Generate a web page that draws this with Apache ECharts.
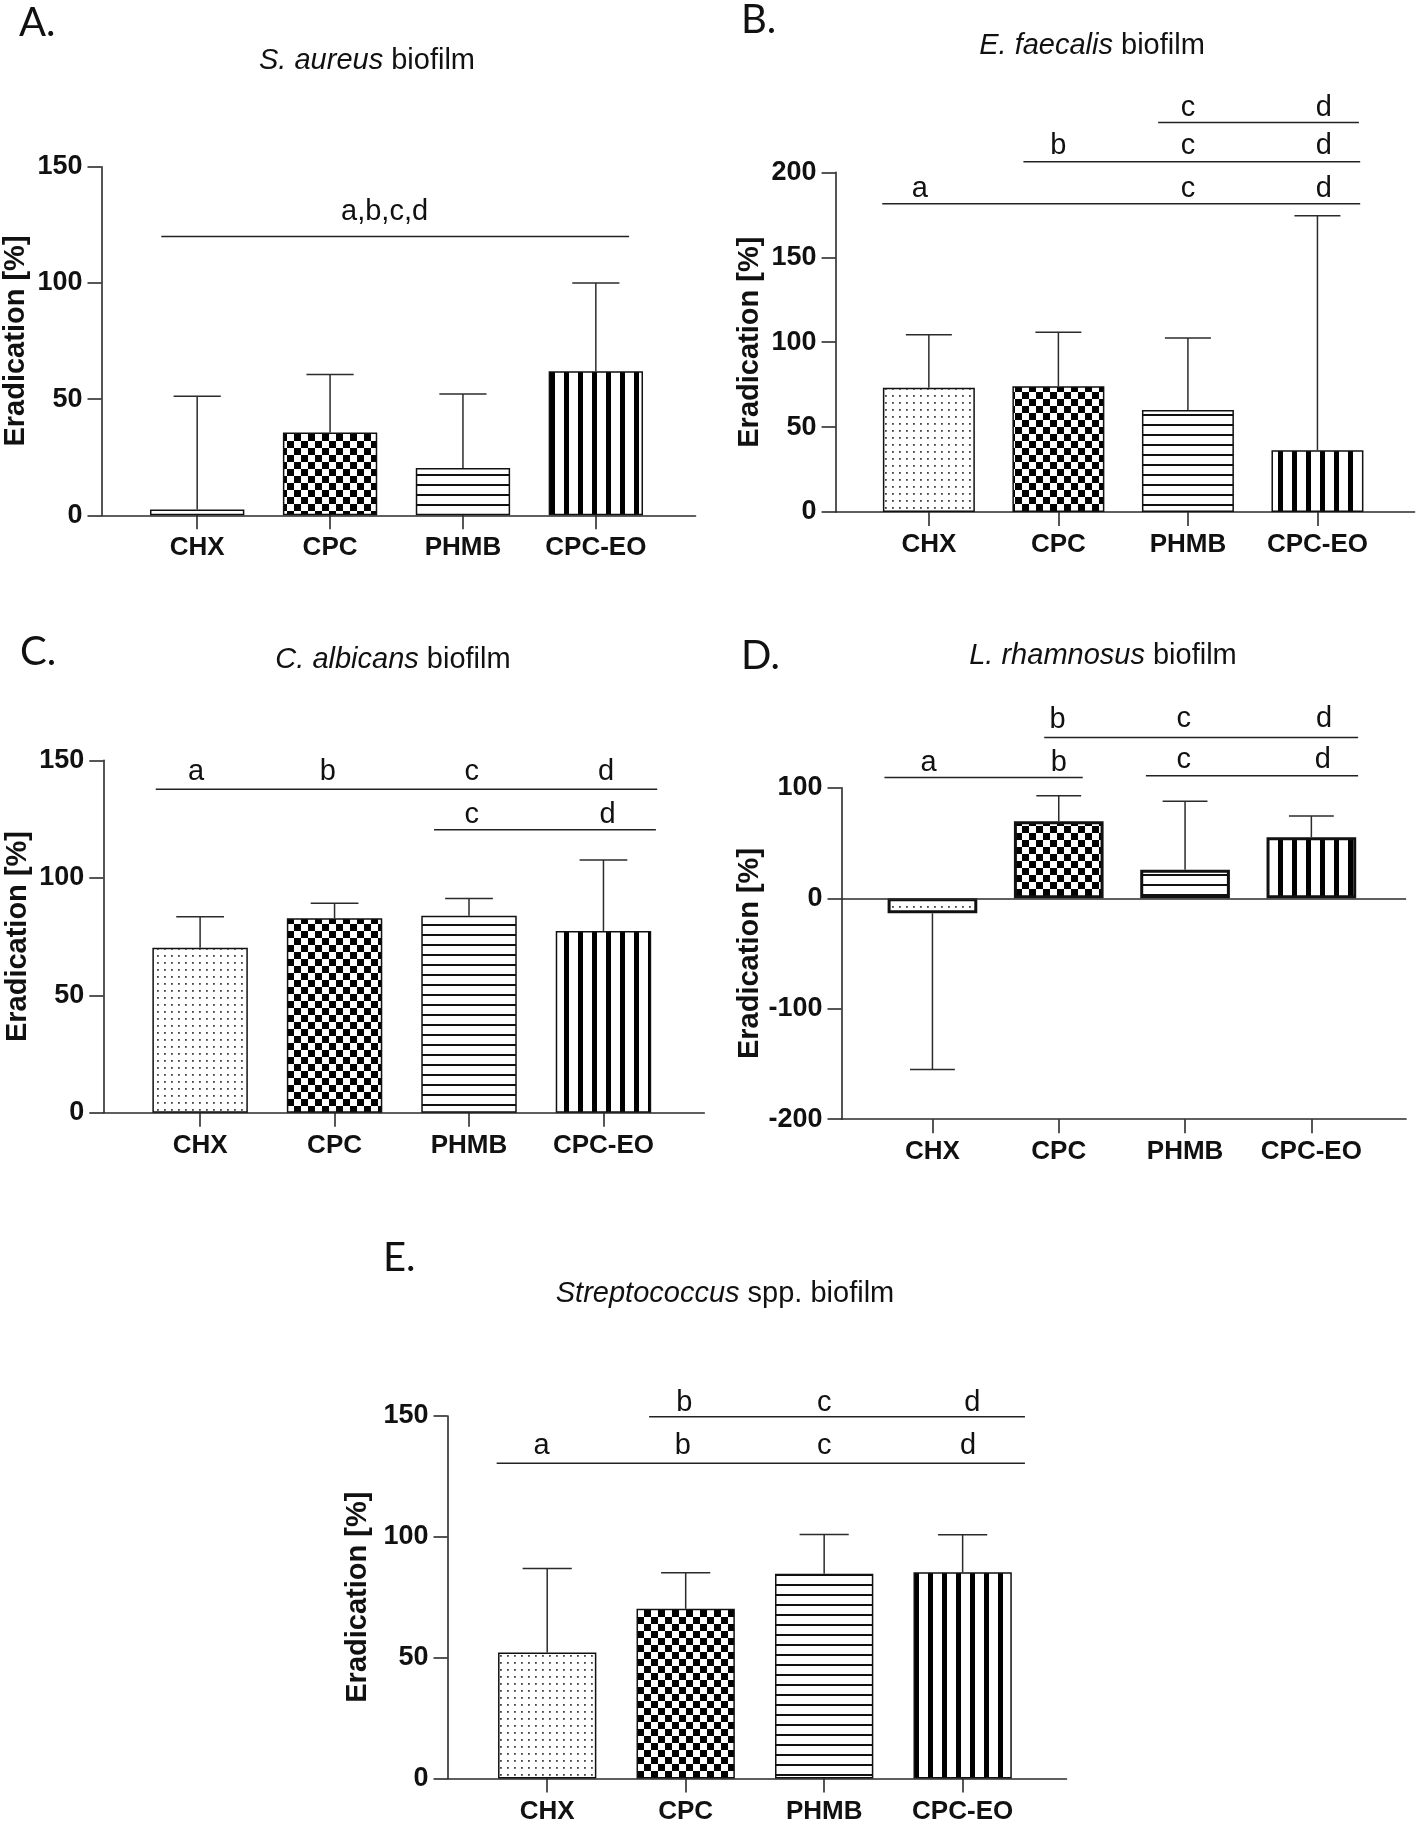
<!DOCTYPE html>
<html>
<head>
<meta charset="utf-8">
<title>Biofilm eradication</title>
<script src="https://cdn.jsdelivr.net/npm/echarts@6.0.0/dist/echarts.min.js"></script>
<style>
  html, body { margin: 0; padding: 0; background: #fff; }
  #chart { width: 1416px; height: 1825px; }
</style>
</head>
<body>
<div id="chart"></div>
<script>
// categories (same for every panel)
const categories = ['CHX', 'CPC', 'PHMB', 'CPC-EO'];

// A. S. aureus biofilm
const meanA = [2.5, 35.6, 20.4, 62.0];
const errA = [51.2, 60.6, 52.2, 100.0];
const yTicksA = [0, 50, 100, 150];
const linesA = [[-0.27, 3.25, 120]];            // [x from, x to, y]
const lettersA = [[1.41, 130.6, 'a,b,c,d']];     // [x, y, text]

// B. E. faecalis biofilm
const meanB = [73.2, 74.1, 60.1, 36.4];
const errB = [104.4, 105.9, 102.4, 174.5];
const yTicksB = [0, 50, 100, 150, 200];
const linesB = [[-0.36, 3.33, 181.5], [0.73, 3.33, 206.3], [1.77, 3.32, 229.4]];
const lettersB = [
  [-0.07, 190.4, 'a'], [2.0, 190.4, 'c'], [3.05, 190.4, 'd'],
  [1.0, 215.5, 'b'], [2.0, 215.5, 'c'], [3.05, 215.5, 'd'],
  [2.0, 237.9, 'c'], [3.05, 237.9, 'd']
];

// C. C. albicans biofilm
const meanC = [70.2, 82.8, 83.9, 77.4];
const errC = [83.4, 89.2, 91.2, 107.6];
const yTicksC = [0, 50, 100, 150];
const linesC = [[-0.33, 3.40, 137.7], [1.74, 3.39, 120.5]];
const lettersC = [
  [-0.03, 145.1, 'a'], [0.95, 145.1, 'b'], [2.02, 145.1, 'c'], [3.02, 145.1, 'd'],
  [2.02, 126.9, 'c'], [3.03, 126.9, 'd']
];

// D. L. rhamnosus biofilm
const meanD = [-13.6, 69.8, 25.9, 55.3];
const errD = [-154.9, 92.8, 87.9, 74.4];
const yTicksD = [-200, -100, 0, 100];
const linesD = [[-0.38, 1.19, 109.3], [1.69, 3.37, 110.9], [0.885, 3.37, 145.5]];
const lettersD = [
  [-0.03, 122.2, 'a'], [1.0, 122.2, 'b'],
  [1.99, 125.4, 'c'], [3.09, 125.4, 'd'],
  [0.99, 161.0, 'b'], [1.99, 162.6, 'c'], [3.1, 162.6, 'd']
];

// E. Streptococcus spp. biofilm
const meanE = [52.1, 70.2, 84.7, 85.3];
const errE = [86.9, 85.1, 101.0, 100.8];
const yTicksE = [0, 50, 100, 150];
const linesE = [[-0.365, 3.45, 130.4], [0.736, 3.45, 149.7]];
const lettersE = [
  [-0.04, 137.4, 'a'], [0.98, 137.4, 'b'], [2.0, 137.4, 'c'], [3.04, 137.4, 'd'],
  [0.99, 155.5, 'b'], [2.0, 155.5, 'c'], [3.07, 155.5, 'd']
];

// 字体
const SANS = '"Liberation Sans", Arial, sans-serif';
const AXIS_COLOR = '#2b2b2b';

// fill patterns drawn on small canvases
function makePattern(kind) {
  const c = document.createElement('canvas');
  const ctx = c.getContext('2d');
  if (kind === 'dots') {
    c.width = 7; c.height = 7;
    ctx.fillStyle = '#fff'; ctx.fillRect(0, 0, 7, 7);
    ctx.fillStyle = '#444'; ctx.fillRect(3, 3, 1.8, 1.8);
  } else if (kind === 'checker') {
    c.width = 14; c.height = 14;
    ctx.fillStyle = '#fff'; ctx.fillRect(0, 0, 14, 14);
    ctx.fillStyle = '#000';
    ctx.fillRect(0, 0, 7, 7); ctx.fillRect(7, 7, 7, 7);
  } else if (kind === 'hlines') {
    c.width = 10; c.height = 10;
    ctx.fillStyle = '#fff'; ctx.fillRect(0, 0, 10, 10);
    ctx.fillStyle = '#111'; ctx.fillRect(0, 4, 10, 2);
  } else {
    c.width = 14; c.height = 14;
    ctx.fillStyle = '#fff'; ctx.fillRect(0, 0, 14, 14);
    ctx.fillStyle = '#000'; ctx.fillRect(4, 0, 5, 14);
  }
  return { image: c, repeat: 'repeat' };
}
const patterns = [makePattern('dots'), makePattern('checker'), makePattern('hlines'), makePattern('vlines')];

const X_MIN = -0.72, X_MAX = 3.75;

// layout of every panel
const panels = [
  { letter: 'A.', letterPos: [19, 23], species: 'S. aureus', rest: ' biofilm', titlePos: [367, 61],
    grid: { left: 101.5, top: 166.7, width: 594, height: 348.6 }, nameGap: 71, border: 1.5,
    mean: meanA, err: errA, ticks: yTicksA, lines: linesA, letters: lettersA },
  { letter: 'B.', letterPos: [741, 20], species: 'E. faecalis', rest: ' biofilm', titlePos: [1092, 46],
    grid: { left: 835.6, top: 172.4, width: 579, height: 339.6 }, nameGap: 71, border: 1.5,
    mean: meanB, err: errB, ticks: yTicksB, lines: linesB, letters: lettersB },
  { letter: 'C.', letterPos: [20, 652], species: 'C. albicans', rest: ' biofilm', titlePos: [393, 660],
    grid: { left: 103.3, top: 760.3, width: 601, height: 352.5 }, nameGap: 71, border: 1.5,
    mean: meanC, err: errC, ticks: yTicksC, lines: linesC, letters: lettersC },
  { letter: 'D.', letterPos: [741, 656], species: 'L. rhamnosus', rest: ' biofilm', titlePos: [1103, 656],
    grid: { left: 841.5, top: 787.8, width: 564.6, height: 331.4 }, nameGap: 77, border: 3,
    mean: meanD, err: errD, ticks: yTicksD, lines: linesD, letters: lettersD, zeroLine: true },
  { letter: 'E.', letterPos: [383, 1258], species: 'Streptococcus', rest: ' spp. biofilm', titlePos: [725, 1294],
    grid: { left: 447.5, top: 1416, width: 619, height: 362.4 }, nameGap: 75, border: 1.5,
    mean: meanE, err: errE, ticks: yTicksE, lines: linesE, letters: lettersE }
];

const grids = [], xAxes = [], yAxes = [], series = [], graphics = [];

panels.forEach((p, i) => {
  const band = p.grid.width / (X_MAX - X_MIN);
  const barW = band * 0.71;

  grids.push(Object.assign({ outerBoundsMode: 'none', containLabel: false }, p.grid));

  xAxes.push({
    type: 'value', gridIndex: i, min: X_MIN, max: X_MAX,
    axisLine: { show: true, onZero: false, lineStyle: { color: AXIS_COLOR, width: 1.6 } },
    axisTick: { show: true, length: 14, customValues: [0, 1, 2, 3], lineStyle: { color: AXIS_COLOR, width: 1.6 } },
    axisLabel: {
      show: true, customValues: [0, 1, 2, 3], margin: 20,
      formatter: v => categories[Math.round(v)] || '',
      fontFamily: SANS, fontWeight: 'bold', fontSize: 26, color: '#111'
    },
    splitLine: { show: false }
  });

  const t = p.ticks;
  yAxes.push({
    type: 'value', gridIndex: i, min: t[0], max: t[t.length - 1], interval: t[1] - t[0],
    name: 'Eradication [%]', nameLocation: 'middle', nameRotate: 90, nameGap: p.nameGap,
    nameTextStyle: { fontFamily: SANS, fontWeight: 'bold', fontSize: 29, color: '#111' },
    axisLine: { show: true, onZero: false, lineStyle: { color: AXIS_COLOR, width: 1.6 } },
    axisTick: { show: true, length: 14, lineStyle: { color: AXIS_COLOR, width: 1.6 } },
    axisLabel: { margin: 19, fontFamily: SANS, fontWeight: 'bold', fontSize: 27, color: '#111' },
    splitLine: { show: false }
  });

  // bars
  const bar = {
    type: 'bar', xAxisIndex: i, yAxisIndex: i, barWidth: barW, z: 2,
    itemStyle: { borderColor: '#111', borderWidth: p.border },
    data: p.mean.map((v, k) => ({ value: [k, v], itemStyle: { color: patterns[k] } }))
  };
  if (p.zeroLine) {
    bar.markLine = {
      silent: true, symbol: 'none', label: { show: false },
      lineStyle: { color: AXIS_COLOR, width: 1.6, type: 'solid' },
      data: [{ yAxis: 0 }]
    };
  }
  series.push(bar);

  // error bars (one side, like the original)
  const cap = barW * 0.5;
  series.push({
    type: 'custom', xAxisIndex: i, yAxisIndex: i, z: 3, silent: true,
    data: p.mean.map((v, k) => [k, v, p.err[k]]),
    renderItem: (params, api) => {
      const x = api.value(0);
      const a = api.coord([x, api.value(1)]);
      const b = api.coord([x, api.value(2)]);
      const st = { stroke: AXIS_COLOR, lineWidth: 1.5 };
      return {
        type: 'group', children: [
          { type: 'line', shape: { x1: a[0], y1: a[1], x2: b[0], y2: b[1] }, style: st },
          { type: 'line', shape: { x1: b[0] - cap / 2, y1: b[1], x2: b[0] + cap / 2, y2: b[1] }, style: st }
        ]
      };
    }
  });

  // significance lines
  series.push({
    type: 'custom', xAxisIndex: i, yAxisIndex: i, z: 3, silent: true, clip: false,
    data: p.lines.map(l => [l[0], l[2], l[1]]),
    renderItem: (params, api) => {
      const a = api.coord([api.value(0), api.value(1)]);
      const b = api.coord([api.value(2), api.value(1)]);
      return { type: 'line', shape: { x1: a[0], y1: a[1], x2: b[0], y2: b[1] },
               style: { stroke: '#222', lineWidth: 1.5 } };
    }
  });

  // significance letters
  const letters = p.letters;
  series.push({
    type: 'custom', xAxisIndex: i, yAxisIndex: i, z: 3, silent: true, clip: false,
    data: letters.map(l => [l[0], l[1]]),
    renderItem: (params, api) => {
      const pt = api.coord([api.value(0), api.value(1)]);
      return {
        type: 'text', x: pt[0], y: pt[1],
        style: {
          text: letters[params.dataIndex][2], font: '29px ' + SANS, fill: '#111',
          align: 'center', verticalAlign: 'middle', textAlign: 'center', textVerticalAlign: 'middle'
        }
      };
    }
  });

  // panel letter and title
  graphics.push({
    type: 'text', x: p.letterPos[0], y: p.letterPos[1],
    style: { text: p.letter, font: '40px Lato, "Open Sans", sans-serif', fill: '#111',
             align: 'left', verticalAlign: 'middle', textAlign: 'left', textVerticalAlign: 'middle' }
  });
  graphics.push({
    type: 'text', x: p.titlePos[0], y: p.titlePos[1],
    style: {
      text: '{i|' + p.species + '}{n|' + p.rest + '}', fill: '#111',
      font: '29px ' + SANS,
      rich: { i: { font: 'italic 29px ' + SANS, fill: '#111' }, n: { font: '29px ' + SANS, fill: '#111' } },
      align: 'center', verticalAlign: 'middle', textAlign: 'center', textVerticalAlign: 'middle'
    }
  });
});

const myChart = echarts.init(document.getElementById('chart'), null, { renderer: 'canvas' });
myChart.setOption({
  backgroundColor: '#fff',
  animation: false,
  grid: grids,
  xAxis: xAxes,
  yAxis: yAxes,
  series: series,
  graphic: graphics
});
</script>
</body>
</html>
